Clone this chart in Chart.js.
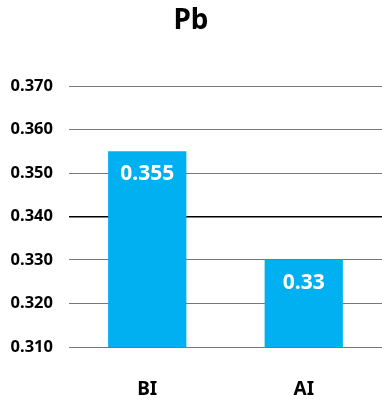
<!DOCTYPE html>
<html>
<head>
<meta charset="utf-8">
<script src="https://cdn.jsdelivr.net/npm/chart.js@4"></script>
<style>
  html, body { margin: 0; padding: 0; background: #fff; }
  #wrap { width: 382px; height: 406px; position: relative; }
</style>
</head>
<body>
<div id="wrap"><canvas id="chart"></canvas></div>
<script>
// datos
const categories = ["BI", "AI"];
const values = [0.355, 0.33];
const valueLabels = ["0.355", "0.33"];
const yTicks = [0.310, 0.320, 0.330, 0.340, 0.350, 0.360, 0.370];
const chartTitle = "Pb";

const FONT = "'Noto Sans', 'Open Sans', sans-serif";

// titulo y etiquetas dentro de las barras
const labelsPlugin = {
    id: "labels",
    afterDatasetsDraw(chart) {
        const ctx = chart.ctx;
        const meta = chart.getDatasetMeta(0);
        ctx.save();
        ctx.fillStyle = "#ffffff";
        ctx.font = "bold 21px " + FONT;
        ctx.textAlign = "center";
        ctx.textBaseline = "middle";
        meta.data.forEach((bar, i) => {
            ctx.fillText(valueLabels[i], bar.x, bar.y + 23);
        });
        ctx.fillStyle = "#000";
        ctx.font = "bold 28px " + FONT;
        ctx.fillText(chartTitle, chart.width / 2, 21);
        ctx.restore();
    }
};

const ctx = document.getElementById("chart").getContext("2d");
new Chart(ctx, {
    type: "bar",
    data: {
        labels: categories,
        datasets: [{
            data: values,
            backgroundColor: "#00B0F0",
            barPercentage: 0.5,
            categoryPercentage: 1
        }]
    },
    options: {
        responsive: true,
        maintainAspectRatio: false,
        animation: false,
        layout: { padding: { top: 86, right: 0, bottom: 0, left: 0 } },
        plugins: { legend: { display: false }, title: { display: false }, tooltip: { enabled: false } },
        scales: {
            x: {
                grid: { display: false },
                border: { display: false },
                ticks: { color: "#000", font: { family: FONT, size: 19, weight: "bold" }, padding: 23 },
                afterFit(scale) { scale.height = 59; }
            },
            y: {
                min: 0.31,
                max: 0.37,
                afterBuildTicks(scale) { scale.ticks = yTicks.map(v => ({ value: v })); },
                border: { display: false },
                grid: {
                    drawTicks: false,
                    color: c => Math.abs(c.tick.value - 0.34) < 1e-9 ? "#000" : "#777",
                    lineWidth: c => Math.abs(c.tick.value - 0.34) < 1e-9 ? 1.6 : 1
                },
                ticks: {
                    color: "#000",
                    font: { family: FONT, size: 16.5, weight: "bold" },
                    padding: 16,
                    callback: v => v.toFixed(3)
                },
                afterFit(scale) { scale.width = 69; }
            }
        }
    },
    plugins: [labelsPlugin]
});
</script>
</body>
</html>
